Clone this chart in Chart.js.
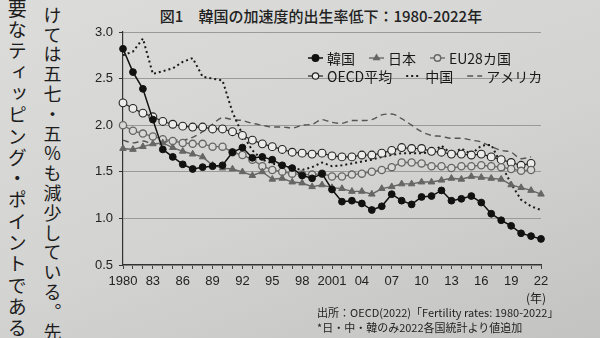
<!DOCTYPE html>
<html lang="ja">
<head>
<meta charset="utf-8">
<script src="https://cdn.jsdelivr.net/npm/chart.js@4.4.1/dist/chart.umd.min.js"></script>
<style>
html, body { margin: 0; padding: 0; }
body {
  width: 600px; height: 338px; overflow: hidden; position: relative;
  background: linear-gradient(160deg, #dcdcda 0%, #d3d3d1 55%, #c3c3c1 100%);
  font-family: 'Noto Sans CJK JP', sans-serif; color: #222;
}
.col { position: absolute; writing-mode: vertical-rl; text-orientation: upright; white-space: nowrap; color: #1c1c1c; line-height: 1.2; }
#c1 { left: 41px; top: 6px; font-size: 18px; letter-spacing: 1.8px; }
#c2 { left: 5px; top: -1px; font-size: 19px; letter-spacing: 2.3px; }
#title { position: absolute; top: 5px; left: 0; width: 642px; text-align: center; font-size: 15px; font-weight: 500; color: #222; }
#wrap { position: absolute; left: 80px; top: 0; width: 475px; height: 338px; }
#unit { position: absolute; left: 526px; top: 289px; font-size: 12px; color: #222; }
#src { position: absolute; left: 317px; top: 305px; font-size: 11px; line-height: 15px; color: #222; }
</style>
</head>
<body>
<div class="col" id="c1">けては五七・五％も減少している。先</div>
<div class="col" id="c2">要なティッピング・ポイントであると</div>
<div id="title">図1　韓国の加速度的出生率低下：1980-2022年</div>
<div id="wrap"><canvas id="grafica"></canvas></div>
<div id="unit">(年)</div>
<div id="src">出所：OECD(2022)「Fertility rates: 1980-2022」<br>*日・中・韓のみ2022各国統計より値追加</div>
<script>
// 年 1980〜2022
const years = [];
for (let y = 1980; y <= 2022; y++) years.push(y);

const korea = [2.82,2.57,2.39,2.06,1.74,1.66,1.58,1.53,1.55,1.56,
  1.57,1.71,1.76,1.65,1.66,1.63,1.57,1.54,1.46,1.43,
  1.48,1.31,1.18,1.19,1.16,1.09,1.13,1.26,1.19,1.15,
  1.23,1.24,1.30,1.19,1.21,1.24,1.17,1.05,0.98,0.92,
  0.84,0.81,0.78];
const japan = [1.75,1.74,1.77,1.80,1.81,1.76,1.72,1.69,1.66,1.57,
  1.54,1.53,1.50,1.46,1.50,1.42,1.43,1.39,1.38,1.34,
  1.36,1.33,1.32,1.29,1.29,1.26,1.32,1.34,1.37,1.37,
  1.39,1.39,1.41,1.43,1.42,1.45,1.44,1.43,1.42,1.36,
  1.33,1.30,1.26];
const eu28 = [2.00,1.94,1.91,1.88,1.85,1.83,1.81,1.80,1.80,1.77,
  1.77,1.71,1.68,1.63,1.56,1.52,1.50,1.48,1.47,1.47,
  1.48,1.45,1.45,1.47,1.48,1.50,1.52,1.55,1.60,1.60,
  1.59,1.56,1.56,1.54,1.56,1.56,1.57,1.56,1.55,1.53,
  1.51,1.52,null];
const oecd = [2.24,2.18,2.13,2.09,2.04,2.01,1.99,1.98,1.98,1.96,
  1.96,1.93,1.89,1.84,1.80,1.77,1.74,1.71,1.70,1.69,
  1.70,1.67,1.66,1.66,1.68,1.68,1.70,1.73,1.76,1.75,
  1.75,1.72,1.71,1.69,1.69,1.68,1.69,1.66,1.63,1.60,
  1.57,1.59,null];
const china = [2.75,2.79,2.93,2.55,2.58,2.61,2.68,2.72,2.52,2.50,
  2.48,2.14,1.90,1.73,1.63,1.59,1.56,1.54,1.52,1.55,
  1.60,1.56,1.57,1.59,1.61,1.63,1.66,1.68,1.70,1.70,
  1.70,1.71,1.78,1.69,1.75,1.69,1.78,1.79,1.58,1.37,
  1.20,1.13,1.09];
const usa = [1.84,1.81,1.83,1.80,1.81,1.84,1.84,1.87,1.93,2.01,
  2.08,2.06,2.05,2.02,2.00,1.98,1.98,1.97,2.00,2.01,
  2.06,2.03,2.02,2.05,2.05,2.06,2.11,2.12,2.07,2.00,
  1.93,1.89,1.88,1.86,1.86,1.84,1.82,1.77,1.73,1.71,
  1.64,1.66,null];

const paper = '#d8d8d6';
const fuente = '"Liberation Sans", "Noto Sans CJK JP", sans-serif';

function tickLabel(y) {
    if ((y - 1980) % 3 !== 0) return '';
    if (y === 1980 || y === 2001) return String(y);
    return String(y).slice(2);
}

// leyenda: dos filas como en el libro
const legendRows = [[0, 1, 2], [3, 4, 5]];

const legendPlugin = {
    id: 'leyenda',
    afterDraw(chart) {
        const ctx = chart.ctx;
        ctx.save();
        ctx.font = '14px "Noto Sans CJK JP"';
        ctx.textBaseline = 'middle';
        legendRows.forEach((row, r) => {
            let x = chart.chartArea.left + 185;
            const y = 58 + r * 18;
            row.forEach(i => {
                const ds = chart.data.datasets[i];
                ctx.save();
                ctx.strokeStyle = ds.borderColor;
                ctx.lineWidth = ds.borderWidth;
                ctx.setLineDash(ds.borderDash || []);
                ctx.beginPath();
                ctx.moveTo(x, y);
                ctx.lineTo(x + 15, y);
                ctx.stroke();
                ctx.setLineDash([]);
                if (ds.pointRadius > 0) {
                    ctx.fillStyle = ds.pointBackgroundColor;
                    ctx.strokeStyle = ds.pointBorderColor;
                    Chart.helpers.drawPoint(ctx, {
                        pointStyle: ds.pointStyle, radius: 3.2, rotation: 0,
                        borderWidth: ds.pointBorderWidth
                    }, x + 7.5, y);
                }
                ctx.restore();
                x += 19;
                ctx.fillStyle = '#1a1a1a';
                ctx.fillText(ds.label, x, y + 1);
                x += ctx.measureText(ds.label).width + 14;
            });
        });
        ctx.restore();
    }
};

const data = {
    labels: years,
    datasets: [
        { label: '韓国', data: korea, borderColor: '#111', borderWidth: 1.5,
          pointStyle: 'circle', pointRadius: 3.4, pointBackgroundColor: '#111',
          pointBorderColor: '#111', pointBorderWidth: 1 },
        { label: '日本', data: japan, borderColor: '#666', borderWidth: 1.4,
          pointStyle: 'triangle', pointRadius: 3.8, pointBackgroundColor: '#666',
          pointBorderColor: '#666', pointBorderWidth: 1 },
        { label: 'EU28カ国', data: eu28, borderColor: '#6e6e6e', borderWidth: 1.4,
          pointStyle: 'circle', pointRadius: 3.6, pointBackgroundColor: paper,
          pointBorderColor: '#666', pointBorderWidth: 1.3 },
        { label: 'OECD平均', data: oecd, borderColor: '#222', borderWidth: 1.2,
          pointStyle: 'circle', pointRadius: 3.9, pointBackgroundColor: '#ececea',
          pointBorderColor: '#222', pointBorderWidth: 1.1 },
        { label: '中国', data: china, borderColor: '#1a1a1a', borderWidth: 2,
          borderDash: [2, 3], pointRadius: 0 },
        { label: 'アメリカ', data: usa, borderColor: '#555', borderWidth: 1.4,
          borderDash: [6, 4], pointRadius: 0, cubicInterpolationMode: 'monotone' }
    ]
};

const config = {
    type: 'line',
    data: data,
    options: {
        responsive: true,
        maintainAspectRatio: false,
        animation: false,
        devicePixelRatio: 1,
        layout: { padding: { top: 32, right: 14, left: 0, bottom: 0 } },
        plugins: { legend: { display: false }, title: { display: false }, tooltip: { enabled: false } },
        scales: {
            x: {
                offset: false,
                afterFit: s => { s.height = 73; },
                border: { display: true, color: '#333', width: 1.2 },
                grid: { display: true, drawOnChartArea: false, drawTicks: true, tickLength: 4, color: '#444' },
                ticks: {
                    autoSkip: false, maxRotation: 0, padding: 5, color: '#222',
                    font: { family: fuente, size: 13 },
                    callback: (v, i) => tickLabel(years[i])
                }
            },
            y: {
                min: 0.5, max: 3.0,
                afterFit: s => { s.width = 43; },
                border: { display: true, color: '#333', width: 1.2 },
                grid: { color: '#9a9a98', lineWidth: 1, tickLength: 4, tickColor: '#333' },
                ticks: {
                    stepSize: 0.5, padding: 6, color: '#222',
                    font: { family: fuente, size: 13 },
                    callback: v => v.toFixed(1)
                }
            }
        }
    },
    plugins: [legendPlugin]
};

const ChartPrincipal = new Chart(document.getElementById('grafica'), config);
</script>
</body>
</html>
